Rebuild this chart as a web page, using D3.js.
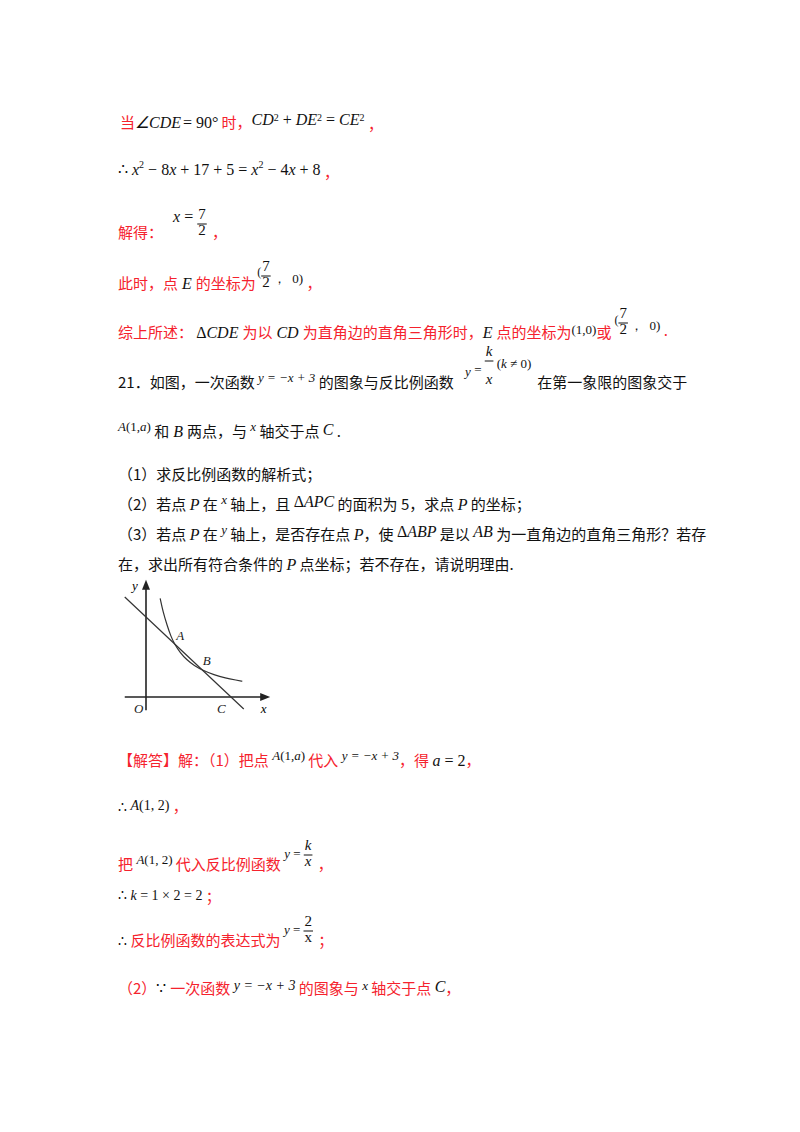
<!DOCTYPE html>
<html><head><meta charset="utf-8">
<script src="https://cdn.jsdelivr.net/npm/d3@7"></script>
<style>body{margin:0;background:#fff} text{white-space:pre}</style></head>
<body><svg id="s" width="800" height="1132"></svg>
<script>
const lineFn = [[-0.75,3.75],[3.45,-0.45]];
const hyperbola = [[0.5,3.7],[0.6,3.2],[0.75,2.67],[0.88,2.27],[1,2],[1.2,1.67],[1.45,1.38],[1.7,1.18],[2,1],[2.4,0.83],[2.8,0.71],[3.2,0.63],[3.4,0.59]];
const pointLabels = [{t:"A",x:1,y:2,dx:2,dy:-4},{t:"B",x:2,y:1,dx:0,dy:-5},{t:"C",x:3,y:0,dx:-14,dy:16},{t:"O",x:0,y:0,dx:-12,dy:16}];
const axisLabels = [{t:"x",x:3.7,y:0},{t:"y",x:0,y:4.5}];

const svg = d3.select("#s");
const RED="#f5222d", BLK="#111";
const CJK="'Noto Sans CJK SC',sans-serif", MATH="'Liberation Serif','Times New Roman',serif";

function row(x, y, segs){
  let cx=x;
  segs.forEach(s=>{
    if(typeof s==="string") s={t:s};
    if(s.frac){
      const n=svg.append("text").attr("font-family",MATH).attr("font-size",15).attr("fill",BLK).text(s.frac[0]);
      const d=svg.append("text").attr("font-family",MATH).attr("font-size",15).attr("fill",BLK).text(s.frac[1]).attr("font-style",s.it?"italic":null);
      if(s.nit) n.attr("font-style","italic");
      const w=Math.max(n.node().getComputedTextLength(),d.node().getComputedTextLength())+2;
      n.attr("x",cx+(w-n.node().getComputedTextLength())/2).attr("y",y-(s.up||14));
      d.attr("x",cx+(w-d.node().getComputedTextLength())/2).attr("y",y+(s.down||2)-2);
      svg.append("line").attr("x1",cx).attr("x2",cx+w).attr("y1",y-(s.up||14)+5).attr("y2",y-(s.up||14)+5).attr("stroke",BLK);
      cx+=w+2; return;
    }
    const el=svg.append("text").attr("x",cx).attr("y",y+(s.dy||0))
      .attr("font-family",s.m?MATH:CJK).attr("font-size",s.fs||(s.m?16:15))
      .attr("fill",s.c||(s.m?BLK:RED)).attr("font-style",s.it?"italic":null).text(s.t);
    cx+=el.node().getComputedTextLength()+(s.gap||0);
  });
  return cx;
}
const M=(t,o={})=>Object.assign({t,m:1,it:1},o);
const N=(t,o={})=>Object.assign({t,m:1},o);
const SUP=(t)=>({t,m:1,fs:10,dy:-7});

row(120,128,["当",M("∠CDE",{gap:2}),N("= 90°",{gap:3}),"时，",M("CD",{dy:-3}),SUP("2"),N(" + ",{dy:-3}),M("DE",{dy:-3}),SUP("2"),N(" = ",{dy:-3}),M("CE",{dy:-3}),SUP("2"),{t:" ，",dy:2}]);
row(118,175,[N("∴ "),M("x"),SUP("2"),N(" − 8"),M("x"),N(" + 17 + 5 = "),M("x"),SUP("2"),N(" − 4"),M("x"),N(" + 8"),{t:" ，",dy:3}]);
let cx=row(118,238,["解得：",{t:"   "}]);
cx=row(cx,222,[M("x"),N(" = ")]);
cx=row(cx,235,[{frac:["7","2"],up:16,down:0}]);
row(cx,238,[" ，"]);
cx=row(118,289,["此时，点",M(" E "),"的坐标为 "]);
cx=row(cx-2,276,[N("(",{fs:12})]);
cx=row(cx,287,[{frac:["7","2"],up:16}]);
row(cx,283,[N("，  0)",{fs:13}),{t:" ，",dy:6}]);
cx=row(118,338,["综上所述：",N(" Δ"),M("CDE "),"为以",M(" CD "),"为直角边的直角三角形时，",M("E "),"点的坐标为",N("(1,0)",{fs:13,dy:-4}),"或",N(" (",{fs:12,dy:-14})]);
cx=row(cx,334,[{frac:["7","2"],up:16}]);
row(cx,330,[N("，  0)",{fs:13}),{t:" .",dy:6}]);

const K=(t)=>({t,c:BLK});
cx=row(118,388,[K("21．如图，一次函数 "),M("y = −x + 3",{fs:13,dy:-6}),K(" 的图象与反比例函数 ")]);
cx=row(cx+8,370,[M("y",{fs:13,dy:6}),N(" = ",{fs:13,dy:4})]);
let fx=cx; row(fx,372,[{frac:["k","x"],up:16,down:14,nit:1,it:1}]);
cx=row(fx+12,368,[N("(",{fs:13}),M("k",{fs:13}),N(" ≠ 0)",{fs:13})]);
row(cx+6,388,[K("在第一象限的图象交于")]);
row(118,437,[M("A",{fs:13,dy:-6}),N("(1,",{fs:13,dy:-6}),M("a",{fs:13,dy:-6}),N(") ",{fs:13,dy:-6}),K("和"),M(" B "),K("两点，与 "),M("x",{fs:13,dy:-6}),K(" 轴交于点 "),M("C",{dy:-2}),K(" .")]);
row(118,480,[K("（1）求反比例函数的解析式；")]);
row(118,510,[K("（2）若点 "),M("P"),K(" 在 "),M("x",{fs:13,dy:-6}),K(" 轴上，且 "),N("Δ",{dy:-3}),M("APC",{dy:-3}),K(" 的面积为 5，求点 "),M("P"),K(" 的坐标；")]);
row(118,540,[K("（3）若点 "),M("P"),K(" 在 "),M("y",{fs:13,dy:-6}),K(" 轴上，是否存在点 "),M("P"),K("，使 "),N("Δ",{dy:-3}),M("ABP",{dy:-3}),K(" 是以 "),M("AB",{dy:-3}),K(" 为一直角边的直角三角形？若存")]);
row(118,570,[K("在，求出所有符合条件的 "),M("P"),K(" 点坐标；若不存在，请说明理由.")]);

// graph
const x=d3.scaleLinear().domain([0,3]).range([146,231]);
const y=d3.scaleLinear().domain([0,3]).range([697,617]);
const g=svg.append("g");
g.append("line").attr("x1",x(-0.75)).attr("x2",x(4.1)).attr("y1",y(0)).attr("y2",y(0)).attr("stroke","#222").attr("stroke-width",1.6);
g.append("line").attr("x1",x(0)).attr("x2",x(0)).attr("y1",y(-0.5)).attr("y2",y(4.1)).attr("stroke","#222").attr("stroke-width",1.6);
g.append("path").attr("d",`M${x(4.1)+8},${y(0)} l-10,-4 l0,8 z`).attr("fill","#222");
g.append("path").attr("d",`M${x(0)},${y(4.1)-8} l-4,10 l8,0 z`).attr("fill","#222");
const ln=d3.line().x(d=>x(d[0])).y(d=>y(d[1]));
g.append("path").attr("d",ln(lineFn)).attr("fill","none").attr("stroke","#333").attr("stroke-width",1.2);
g.append("path").attr("d",ln.curve(d3.curveBasis)(hyperbola)).attr("fill","none").attr("stroke","#333").attr("stroke-width",1.2);
pointLabels.forEach(p=>g.append("text").attr("x",x(p.x)+p.dx).attr("y",y(p.y)+p.dy).attr("font-family",MATH).attr("font-style","italic").attr("font-size",13).attr("fill","#222").text(p.t));
g.append("text").attr("x",x(3.7)+10).attr("y",y(0)+16).attr("font-family",MATH).attr("font-style","italic").attr("font-size",13).text("x");
g.append("text").attr("x",x(0)-14).attr("y",y(4.1)+2).attr("font-family",MATH).attr("font-style","italic").attr("font-size",13).text("y");

// answers
row(118,766,["【解答】解：（1）把点 ",M("A",{fs:13,dy:-6}),N("(1,",{fs:13,dy:-6}),M("a",{fs:13,dy:-6}),N(") ",{fs:13,dy:-6}),"代入 ",M("y = −x + 3",{fs:13,dy:-6}),"，得 ",M("a"),N(" = 2"),"，"]);
row(118,812,[N("∴ ",{fs:14}),M("A",{fs:14,dy:-2}),N("(1, 2)",{fs:14,dy:-2})," ，"]);
cx=row(118,870,["把 ",M("A",{fs:13,dy:-6}),N("(1, 2) ",{fs:13,dy:-6}),"代入反比例函数 ",M("y",{fs:13,dy:-12}),N(" = ",{fs:13,dy:-12})]);
cx=row(cx,866,[{frac:["k","x"],up:16,nit:1,it:1}]);
row(cx,870,[" ，"]);
row(118,900,[N("∴ ",{fs:14}),M("k",{fs:14}),N(" = 1 × 2 = 2",{fs:14}),{t:" ；",dy:2}]);
cx=row(118,946,[N("∴ ",{fs:14}),"反比例函数的表达式为 ",M("y",{fs:13,dy:-12}),N(" = ",{fs:13,dy:-12})]);
cx=row(cx,942,[{frac:["2","x"],up:16}]);
row(cx,946,[" ；"]);
row(118,994,["（2）",N("∵ "),"一次函数 ",M("y = −x + 3",{fs:14,dy:-4})," 的图象与 ",M("x ",{fs:13,dy:-4}),"轴交于点 ",M("C",{dy:-2}),"，"]);
</script></body></html>
